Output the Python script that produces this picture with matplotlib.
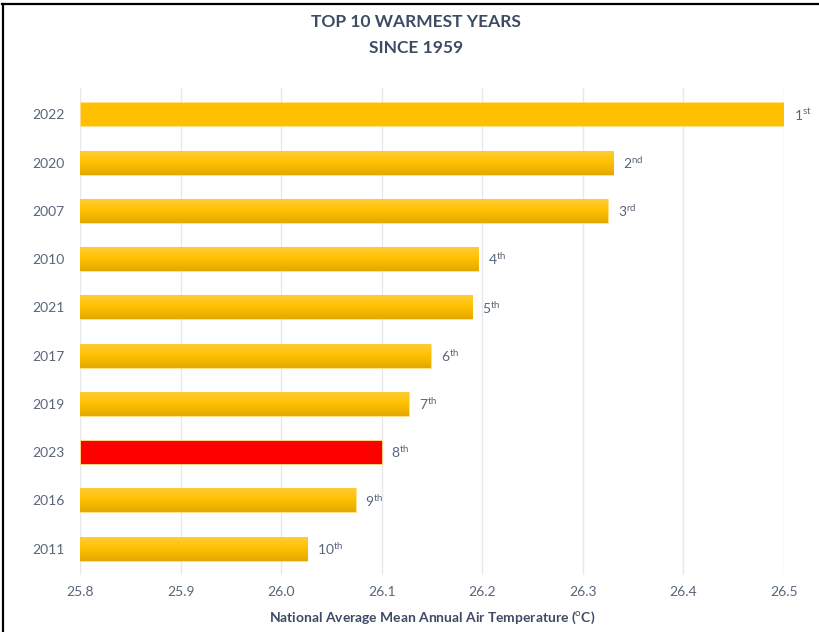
import numpy as np
import matplotlib.pyplot as plt
from matplotlib.lines import Line2D
from matplotlib.colors import LinearSegmentedColormap

plt.rcParams['font.family'] = ['Lato', 'DejaVu Sans']
plt.rcParams['mathtext.fontset'] = 'custom'
plt.rcParams['mathtext.rm'] = 'Lato'

years = ['2022', '2020', '2007', '2010', '2021', '2017', '2019', '2023', '2016', '2011']
temps = [26.50, 26.33, 26.325, 26.196, 26.19, 26.149, 26.127, 26.10, 26.074, 26.026]
ranks = ['1st', '2nd', '3rd', '4th', '5th', '6th', '7th', '8th', '9th', '10th']
xticks = [25.8, 25.9, 26.0, 26.1, 26.2, 26.3, 26.4, 26.5]

base = 25.8
gold = '#ffc000'
highlight = '2023'
text_col = '#596579'
title_col = '#3d4b63'

fig = plt.figure(figsize=(8.2, 6.32), dpi=100)
ax = fig.add_axes([0.0976, 0.090, 0.8585, 0.771])

y = np.arange(len(years))
colors = ['#ff0000' if yr == highlight else gold for yr in years]
bars = ax.barh(y, [t - base for t in temps], left=base, height=0.5,
               color=colors, edgecolor='#ffe08a', linewidth=0.6, zorder=2)

# vertical gradient on the gold bars (except the top one, which is flat)
grad = np.linspace(0, 1, 64).reshape(-1, 1)
cmap = LinearSegmentedColormap.from_list('g', ['#ffcd3a', '#ffc000', '#e3a800'])
for i, (b, yr) in enumerate(zip(bars, years)):
    if yr == highlight or i == 0:
        continue
    x0, y0 = b.get_x(), b.get_y()
    w, h = b.get_width(), b.get_height()
    im = ax.imshow(grad, cmap=cmap, aspect='auto', extent=[x0, x0 + w, y0 + h, y0],
                   zorder=2.5, interpolation='bicubic')
    im.set_clip_path(b)

for yi, t, r in zip(y, temps, ranks):
    num, suf = r[:-2], r[-2:]
    ax.annotate(num + r'$^{\rm ' + suf + '}$', (t, yi), xytext=(7, 0),
                textcoords='offset points', va='center', ha='left',
                fontsize=10, color=text_col, annotation_clip=False)

ax.set_xlim(25.8, 26.5)
ax.set_ylim(len(years) - 0.45, -0.55)
ax.set_yticks(y)
ax.set_yticklabels(years)
ax.set_xticks(xticks)
ax.set_xticklabels([f'{v:.1f}' for v in xticks])
ax.tick_params(length=0, labelsize=10, labelcolor=text_col, pad=8)
ax.tick_params(axis='y', pad=11)
ax.grid(axis='x', color='#e6e8ee', linewidth=1, zorder=0)
ax.set_axisbelow(True)
for s in ax.spines.values():
    s.set_visible(False)

ax.set_xlabel('National Average Mean Annual Air Temperature ($^{\\rm o}$C)',
              fontsize=10, fontweight='bold', color=title_col, labelpad=8)

fig.text(0.507, 0.965, 'TOP 10 WARMEST YEARS', ha='center', va='center',
         fontsize=12.5, fontweight='bold', color=title_col)
fig.text(0.507, 0.924, 'SINCE 1959', ha='center', va='center',
         fontsize=12.5, fontweight='bold', color=title_col)

# frame lines along the top and left edges
fig.add_artist(Line2D([0.003, 1.0], [0.993, 0.993], transform=fig.transFigure,
                      color='black', linewidth=1.6))
fig.add_artist(Line2D([0.004, 0.004], [0.0, 0.993], transform=fig.transFigure,
                      color='black', linewidth=1.6))

fig.savefig('out.png', dpi=100)
